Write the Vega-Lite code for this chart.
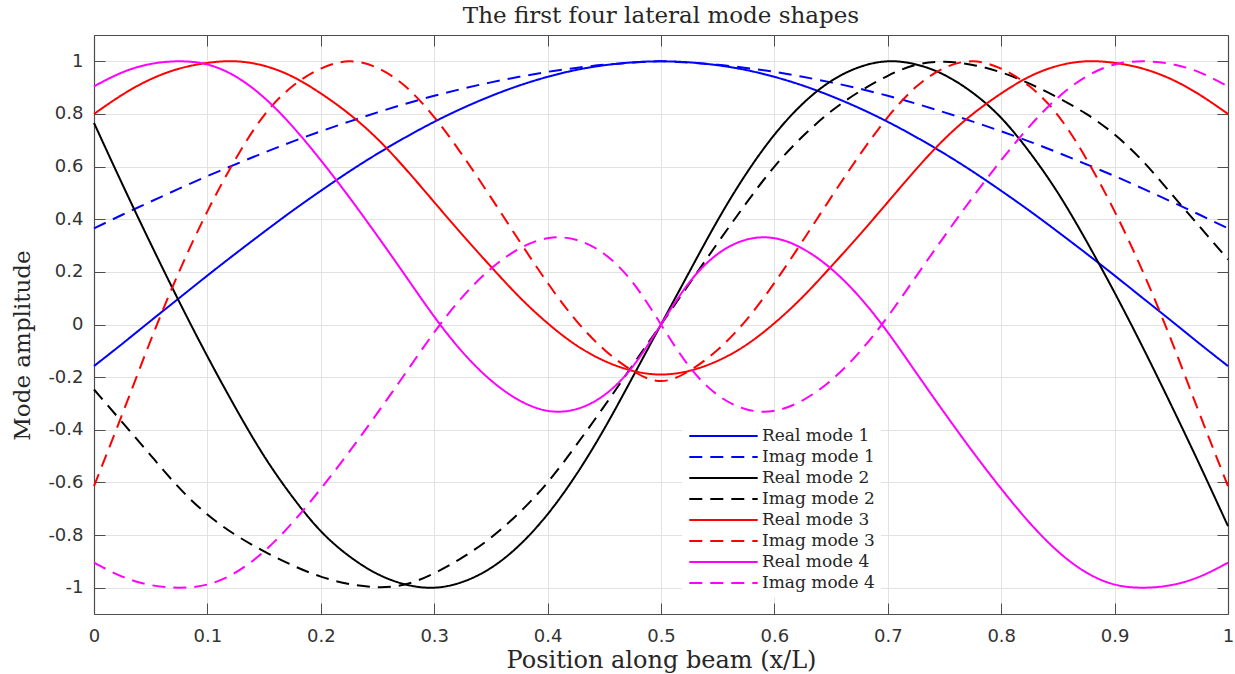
{
  "$schema": "https://vega.github.io/schema/vega-lite/v6.json",
  "width": 1134,
  "height": 579,
  "autosize": {"type": "none"},
  "padding": {"left": 94, "top": 35, "right": 7, "bottom": 60},
  "background": "white",
  "config": {"view": {"stroke": null}},
  "title": {
    "text": "The first four lateral mode shapes",
    "font": "DejaVu Serif",
    "fontSize": 23,
    "fontWeight": "normal",
    "color": "#262626",
    "anchor": "middle",
    "baseline": "alphabetic",
    "offset": 10,
    "dy": 21
  },
  "data": {
    "values": [
      {"s":"Real mode 1","x":0,"y":-0.158},{"s":"Real mode 1","x":0.025,"y":-0.073},{"s":"Real mode 1","x":0.05,"y":0.014},{"s":"Real mode 1","x":0.075,"y":0.1},{"s":"Real mode 1","x":0.1,"y":0.186},{"s":"Real mode 1","x":0.125,"y":0.27},{"s":"Real mode 1","x":0.15,"y":0.352},{"s":"Real mode 1","x":0.175,"y":0.432},{"s":"Real mode 1","x":0.2,"y":0.508},{"s":"Real mode 1","x":0.225,"y":0.581},{"s":"Real mode 1","x":0.25,"y":0.649},{"s":"Real mode 1","x":0.275,"y":0.712},{"s":"Real mode 1","x":0.3,"y":0.77},{"s":"Real mode 1","x":0.325,"y":0.822},{"s":"Real mode 1","x":0.35,"y":0.868},{"s":"Real mode 1","x":0.375,"y":0.908},{"s":"Real mode 1","x":0.4,"y":0.941},{"s":"Real mode 1","x":0.425,"y":0.967},{"s":"Real mode 1","x":0.45,"y":0.985},{"s":"Real mode 1","x":0.475,"y":0.996},{"s":"Real mode 1","x":0.5,"y":1.0},{"s":"Real mode 1","x":0.525,"y":0.996},{"s":"Real mode 1","x":0.55,"y":0.985},{"s":"Real mode 1","x":0.575,"y":0.967},{"s":"Real mode 1","x":0.6,"y":0.941},{"s":"Real mode 1","x":0.625,"y":0.908},{"s":"Real mode 1","x":0.65,"y":0.868},{"s":"Real mode 1","x":0.675,"y":0.822},{"s":"Real mode 1","x":0.7,"y":0.77},{"s":"Real mode 1","x":0.725,"y":0.712},{"s":"Real mode 1","x":0.75,"y":0.649},{"s":"Real mode 1","x":0.775,"y":0.581},{"s":"Real mode 1","x":0.8,"y":0.508},{"s":"Real mode 1","x":0.825,"y":0.432},{"s":"Real mode 1","x":0.85,"y":0.352},{"s":"Real mode 1","x":0.875,"y":0.27},{"s":"Real mode 1","x":0.9,"y":0.186},{"s":"Real mode 1","x":0.925,"y":0.1},{"s":"Real mode 1","x":0.95,"y":0.014},{"s":"Real mode 1","x":0.975,"y":-0.073},{"s":"Real mode 1","x":1,"y":-0.158},
      {"s":"Imag mode 1","x":0,"y":0.365},{"s":"Imag mode 1","x":0.025,"y":0.417},{"s":"Imag mode 1","x":0.05,"y":0.467},{"s":"Imag mode 1","x":0.075,"y":0.516},{"s":"Imag mode 1","x":0.1,"y":0.564},{"s":"Imag mode 1","x":0.125,"y":0.609},{"s":"Imag mode 1","x":0.15,"y":0.653},{"s":"Imag mode 1","x":0.175,"y":0.695},{"s":"Imag mode 1","x":0.2,"y":0.734},{"s":"Imag mode 1","x":0.225,"y":0.771},{"s":"Imag mode 1","x":0.25,"y":0.806},{"s":"Imag mode 1","x":0.275,"y":0.839},{"s":"Imag mode 1","x":0.3,"y":0.869},{"s":"Imag mode 1","x":0.325,"y":0.896},{"s":"Imag mode 1","x":0.35,"y":0.92},{"s":"Imag mode 1","x":0.375,"y":0.941},{"s":"Imag mode 1","x":0.4,"y":0.96},{"s":"Imag mode 1","x":0.425,"y":0.975},{"s":"Imag mode 1","x":0.45,"y":0.987},{"s":"Imag mode 1","x":0.475,"y":0.995},{"s":"Imag mode 1","x":0.5,"y":1.0},{"s":"Imag mode 1","x":0.525,"y":0.995},{"s":"Imag mode 1","x":0.55,"y":0.987},{"s":"Imag mode 1","x":0.575,"y":0.975},{"s":"Imag mode 1","x":0.6,"y":0.96},{"s":"Imag mode 1","x":0.625,"y":0.941},{"s":"Imag mode 1","x":0.65,"y":0.92},{"s":"Imag mode 1","x":0.675,"y":0.896},{"s":"Imag mode 1","x":0.7,"y":0.869},{"s":"Imag mode 1","x":0.725,"y":0.839},{"s":"Imag mode 1","x":0.75,"y":0.806},{"s":"Imag mode 1","x":0.775,"y":0.771},{"s":"Imag mode 1","x":0.8,"y":0.734},{"s":"Imag mode 1","x":0.825,"y":0.695},{"s":"Imag mode 1","x":0.85,"y":0.653},{"s":"Imag mode 1","x":0.875,"y":0.609},{"s":"Imag mode 1","x":0.9,"y":0.564},{"s":"Imag mode 1","x":0.925,"y":0.516},{"s":"Imag mode 1","x":0.95,"y":0.467},{"s":"Imag mode 1","x":0.975,"y":0.417},{"s":"Imag mode 1","x":1,"y":0.365},
      {"s":"Real mode 2","x":0,"y":0.766},{"s":"Real mode 2","x":0.025,"y":0.533},{"s":"Real mode 2","x":0.05,"y":0.307},{"s":"Real mode 2","x":0.075,"y":0.088},{"s":"Real mode 2","x":0.1,"y":-0.121},{"s":"Real mode 2","x":0.125,"y":-0.318},{"s":"Real mode 2","x":0.15,"y":-0.5},{"s":"Real mode 2","x":0.175,"y":-0.655},{"s":"Real mode 2","x":0.2,"y":-0.785},{"s":"Real mode 2","x":0.225,"y":-0.88},{"s":"Real mode 2","x":0.25,"y":-0.948},{"s":"Real mode 2","x":0.275,"y":-0.988},{"s":"Real mode 2","x":0.3,"y":-1.0},{"s":"Real mode 2","x":0.325,"y":-0.978},{"s":"Real mode 2","x":0.35,"y":-0.925},{"s":"Real mode 2","x":0.375,"y":-0.839},{"s":"Real mode 2","x":0.4,"y":-0.721},{"s":"Real mode 2","x":0.425,"y":-0.572},{"s":"Real mode 2","x":0.45,"y":-0.396},{"s":"Real mode 2","x":0.475,"y":-0.2},{"s":"Real mode 2","x":0.5,"y":0},{"s":"Real mode 2","x":0.525,"y":0.2},{"s":"Real mode 2","x":0.55,"y":0.396},{"s":"Real mode 2","x":0.575,"y":0.572},{"s":"Real mode 2","x":0.6,"y":0.721},{"s":"Real mode 2","x":0.625,"y":0.839},{"s":"Real mode 2","x":0.65,"y":0.925},{"s":"Real mode 2","x":0.675,"y":0.978},{"s":"Real mode 2","x":0.7,"y":1.0},{"s":"Real mode 2","x":0.725,"y":0.988},{"s":"Real mode 2","x":0.75,"y":0.948},{"s":"Real mode 2","x":0.775,"y":0.88},{"s":"Real mode 2","x":0.8,"y":0.785},{"s":"Real mode 2","x":0.825,"y":0.655},{"s":"Real mode 2","x":0.85,"y":0.5},{"s":"Real mode 2","x":0.875,"y":0.318},{"s":"Real mode 2","x":0.9,"y":0.121},{"s":"Real mode 2","x":0.925,"y":-0.088},{"s":"Real mode 2","x":0.95,"y":-0.307},{"s":"Real mode 2","x":0.975,"y":-0.533},{"s":"Real mode 2","x":1,"y":-0.766},
      {"s":"Imag mode 2","x":0,"y":-0.247},{"s":"Imag mode 2","x":0.025,"y":-0.372},{"s":"Imag mode 2","x":0.05,"y":-0.497},{"s":"Imag mode 2","x":0.075,"y":-0.62},{"s":"Imag mode 2","x":0.1,"y":-0.722},{"s":"Imag mode 2","x":0.125,"y":-0.8},{"s":"Imag mode 2","x":0.15,"y":-0.862},{"s":"Imag mode 2","x":0.175,"y":-0.915},{"s":"Imag mode 2","x":0.2,"y":-0.958},{"s":"Imag mode 2","x":0.225,"y":-0.986},{"s":"Imag mode 2","x":0.25,"y":-0.998},{"s":"Imag mode 2","x":0.275,"y":-0.987},{"s":"Imag mode 2","x":0.3,"y":-0.945},{"s":"Imag mode 2","x":0.325,"y":-0.885},{"s":"Imag mode 2","x":0.35,"y":-0.81},{"s":"Imag mode 2","x":0.375,"y":-0.715},{"s":"Imag mode 2","x":0.4,"y":-0.6},{"s":"Imag mode 2","x":0.425,"y":-0.46},{"s":"Imag mode 2","x":0.45,"y":-0.31},{"s":"Imag mode 2","x":0.475,"y":-0.155},{"s":"Imag mode 2","x":0.5,"y":0},{"s":"Imag mode 2","x":0.525,"y":0.155},{"s":"Imag mode 2","x":0.55,"y":0.31},{"s":"Imag mode 2","x":0.575,"y":0.46},{"s":"Imag mode 2","x":0.6,"y":0.6},{"s":"Imag mode 2","x":0.625,"y":0.715},{"s":"Imag mode 2","x":0.65,"y":0.81},{"s":"Imag mode 2","x":0.675,"y":0.885},{"s":"Imag mode 2","x":0.7,"y":0.945},{"s":"Imag mode 2","x":0.725,"y":0.987},{"s":"Imag mode 2","x":0.75,"y":0.998},{"s":"Imag mode 2","x":0.775,"y":0.986},{"s":"Imag mode 2","x":0.8,"y":0.958},{"s":"Imag mode 2","x":0.825,"y":0.915},{"s":"Imag mode 2","x":0.85,"y":0.862},{"s":"Imag mode 2","x":0.875,"y":0.8},{"s":"Imag mode 2","x":0.9,"y":0.722},{"s":"Imag mode 2","x":0.925,"y":0.62},{"s":"Imag mode 2","x":0.95,"y":0.497},{"s":"Imag mode 2","x":0.975,"y":0.372},{"s":"Imag mode 2","x":1,"y":0.247},
      {"s":"Real mode 3","x":0,"y":0.8},{"s":"Real mode 3","x":0.025,"y":0.873},{"s":"Real mode 3","x":0.05,"y":0.932},{"s":"Real mode 3","x":0.075,"y":0.972},{"s":"Real mode 3","x":0.1,"y":0.994},{"s":"Real mode 3","x":0.125,"y":1.0},{"s":"Real mode 3","x":0.15,"y":0.983},{"s":"Real mode 3","x":0.175,"y":0.942},{"s":"Real mode 3","x":0.2,"y":0.878},{"s":"Real mode 3","x":0.225,"y":0.8},{"s":"Real mode 3","x":0.25,"y":0.705},{"s":"Real mode 3","x":0.275,"y":0.59},{"s":"Real mode 3","x":0.3,"y":0.465},{"s":"Real mode 3","x":0.325,"y":0.34},{"s":"Real mode 3","x":0.35,"y":0.22},{"s":"Real mode 3","x":0.375,"y":0.105},{"s":"Real mode 3","x":0.4,"y":0.005},{"s":"Real mode 3","x":0.425,"y":-0.078},{"s":"Real mode 3","x":0.45,"y":-0.138},{"s":"Real mode 3","x":0.475,"y":-0.176},{"s":"Real mode 3","x":0.5,"y":-0.19},{"s":"Real mode 3","x":0.525,"y":-0.176},{"s":"Real mode 3","x":0.55,"y":-0.138},{"s":"Real mode 3","x":0.575,"y":-0.078},{"s":"Real mode 3","x":0.6,"y":0.005},{"s":"Real mode 3","x":0.625,"y":0.105},{"s":"Real mode 3","x":0.65,"y":0.22},{"s":"Real mode 3","x":0.675,"y":0.34},{"s":"Real mode 3","x":0.7,"y":0.465},{"s":"Real mode 3","x":0.725,"y":0.59},{"s":"Real mode 3","x":0.75,"y":0.705},{"s":"Real mode 3","x":0.775,"y":0.8},{"s":"Real mode 3","x":0.8,"y":0.878},{"s":"Real mode 3","x":0.825,"y":0.942},{"s":"Real mode 3","x":0.85,"y":0.983},{"s":"Real mode 3","x":0.875,"y":1.0},{"s":"Real mode 3","x":0.9,"y":0.994},{"s":"Real mode 3","x":0.925,"y":0.972},{"s":"Real mode 3","x":0.95,"y":0.932},{"s":"Real mode 3","x":0.975,"y":0.873},{"s":"Real mode 3","x":1,"y":0.8},
      {"s":"Imag mode 3","x":0,"y":-0.614},{"s":"Imag mode 3","x":0.025,"y":-0.34},{"s":"Imag mode 3","x":0.05,"y":-0.06},{"s":"Imag mode 3","x":0.075,"y":0.2},{"s":"Imag mode 3","x":0.1,"y":0.43},{"s":"Imag mode 3","x":0.125,"y":0.63},{"s":"Imag mode 3","x":0.15,"y":0.795},{"s":"Imag mode 3","x":0.175,"y":0.905},{"s":"Imag mode 3","x":0.2,"y":0.972},{"s":"Imag mode 3","x":0.225,"y":1.0},{"s":"Imag mode 3","x":0.25,"y":0.975},{"s":"Imag mode 3","x":0.275,"y":0.903},{"s":"Imag mode 3","x":0.3,"y":0.788},{"s":"Imag mode 3","x":0.325,"y":0.643},{"s":"Imag mode 3","x":0.35,"y":0.483},{"s":"Imag mode 3","x":0.375,"y":0.318},{"s":"Imag mode 3","x":0.4,"y":0.158},{"s":"Imag mode 3","x":0.425,"y":0.016},{"s":"Imag mode 3","x":0.45,"y":-0.096},{"s":"Imag mode 3","x":0.475,"y":-0.176},{"s":"Imag mode 3","x":0.5,"y":-0.215},{"s":"Imag mode 3","x":0.525,"y":-0.176},{"s":"Imag mode 3","x":0.55,"y":-0.096},{"s":"Imag mode 3","x":0.575,"y":0.016},{"s":"Imag mode 3","x":0.6,"y":0.158},{"s":"Imag mode 3","x":0.625,"y":0.318},{"s":"Imag mode 3","x":0.65,"y":0.483},{"s":"Imag mode 3","x":0.675,"y":0.643},{"s":"Imag mode 3","x":0.7,"y":0.788},{"s":"Imag mode 3","x":0.725,"y":0.903},{"s":"Imag mode 3","x":0.75,"y":0.975},{"s":"Imag mode 3","x":0.775,"y":1.0},{"s":"Imag mode 3","x":0.8,"y":0.972},{"s":"Imag mode 3","x":0.825,"y":0.905},{"s":"Imag mode 3","x":0.85,"y":0.795},{"s":"Imag mode 3","x":0.875,"y":0.63},{"s":"Imag mode 3","x":0.9,"y":0.43},{"s":"Imag mode 3","x":0.925,"y":0.2},{"s":"Imag mode 3","x":0.95,"y":-0.06},{"s":"Imag mode 3","x":0.975,"y":-0.34},{"s":"Imag mode 3","x":1,"y":-0.614},
      {"s":"Real mode 4","x":0,"y":0.905},{"s":"Real mode 4","x":0.025,"y":0.958},{"s":"Real mode 4","x":0.05,"y":0.99},{"s":"Real mode 4","x":0.075,"y":1.0},{"s":"Real mode 4","x":0.1,"y":0.988},{"s":"Real mode 4","x":0.125,"y":0.942},{"s":"Real mode 4","x":0.15,"y":0.862},{"s":"Real mode 4","x":0.175,"y":0.753},{"s":"Real mode 4","x":0.2,"y":0.624},{"s":"Real mode 4","x":0.225,"y":0.484},{"s":"Real mode 4","x":0.25,"y":0.336},{"s":"Real mode 4","x":0.275,"y":0.183},{"s":"Real mode 4","x":0.3,"y":0.03},{"s":"Real mode 4","x":0.325,"y":-0.105},{"s":"Real mode 4","x":0.35,"y":-0.212},{"s":"Real mode 4","x":0.375,"y":-0.288},{"s":"Real mode 4","x":0.4,"y":-0.328},{"s":"Real mode 4","x":0.425,"y":-0.322},{"s":"Real mode 4","x":0.45,"y":-0.268},{"s":"Real mode 4","x":0.475,"y":-0.16},{"s":"Real mode 4","x":0.5,"y":0},{"s":"Real mode 4","x":0.525,"y":0.16},{"s":"Real mode 4","x":0.55,"y":0.268},{"s":"Real mode 4","x":0.575,"y":0.322},{"s":"Real mode 4","x":0.6,"y":0.328},{"s":"Real mode 4","x":0.625,"y":0.288},{"s":"Real mode 4","x":0.65,"y":0.212},{"s":"Real mode 4","x":0.675,"y":0.105},{"s":"Real mode 4","x":0.7,"y":-0.03},{"s":"Real mode 4","x":0.725,"y":-0.183},{"s":"Real mode 4","x":0.75,"y":-0.336},{"s":"Real mode 4","x":0.775,"y":-0.484},{"s":"Real mode 4","x":0.8,"y":-0.624},{"s":"Real mode 4","x":0.825,"y":-0.753},{"s":"Real mode 4","x":0.85,"y":-0.862},{"s":"Real mode 4","x":0.875,"y":-0.942},{"s":"Real mode 4","x":0.9,"y":-0.988},{"s":"Real mode 4","x":0.925,"y":-1.0},{"s":"Real mode 4","x":0.95,"y":-0.99},{"s":"Real mode 4","x":0.975,"y":-0.958},{"s":"Real mode 4","x":1,"y":-0.905},
      {"s":"Imag mode 4","x":0,"y":-0.905},{"s":"Imag mode 4","x":0.025,"y":-0.958},{"s":"Imag mode 4","x":0.05,"y":-0.99},{"s":"Imag mode 4","x":0.075,"y":-1.0},{"s":"Imag mode 4","x":0.1,"y":-0.988},{"s":"Imag mode 4","x":0.125,"y":-0.942},{"s":"Imag mode 4","x":0.15,"y":-0.862},{"s":"Imag mode 4","x":0.175,"y":-0.753},{"s":"Imag mode 4","x":0.2,"y":-0.624},{"s":"Imag mode 4","x":0.225,"y":-0.484},{"s":"Imag mode 4","x":0.25,"y":-0.336},{"s":"Imag mode 4","x":0.275,"y":-0.183},{"s":"Imag mode 4","x":0.3,"y":-0.03},{"s":"Imag mode 4","x":0.325,"y":0.105},{"s":"Imag mode 4","x":0.35,"y":0.212},{"s":"Imag mode 4","x":0.375,"y":0.288},{"s":"Imag mode 4","x":0.4,"y":0.328},{"s":"Imag mode 4","x":0.425,"y":0.322},{"s":"Imag mode 4","x":0.45,"y":0.268},{"s":"Imag mode 4","x":0.475,"y":0.16},{"s":"Imag mode 4","x":0.5,"y":0},{"s":"Imag mode 4","x":0.525,"y":-0.16},{"s":"Imag mode 4","x":0.55,"y":-0.268},{"s":"Imag mode 4","x":0.575,"y":-0.322},{"s":"Imag mode 4","x":0.6,"y":-0.328},{"s":"Imag mode 4","x":0.625,"y":-0.288},{"s":"Imag mode 4","x":0.65,"y":-0.212},{"s":"Imag mode 4","x":0.675,"y":-0.105},{"s":"Imag mode 4","x":0.7,"y":0.03},{"s":"Imag mode 4","x":0.725,"y":0.183},{"s":"Imag mode 4","x":0.75,"y":0.336},{"s":"Imag mode 4","x":0.775,"y":0.484},{"s":"Imag mode 4","x":0.8,"y":0.624},{"s":"Imag mode 4","x":0.825,"y":0.753},{"s":"Imag mode 4","x":0.85,"y":0.862},{"s":"Imag mode 4","x":0.875,"y":0.942},{"s":"Imag mode 4","x":0.9,"y":0.988},{"s":"Imag mode 4","x":0.925,"y":1.0},{"s":"Imag mode 4","x":0.95,"y":0.99},{"s":"Imag mode 4","x":0.975,"y":0.958},{"s":"Imag mode 4","x":1,"y":0.905}
    ]
  },
  "layer": [
    {
      "mark": {"type": "line", "strokeWidth": 2, "interpolate": "natural"},
      "encoding": {
        "x": {
          "field": "x", "type": "quantitative",
          "scale": {"domain": [0, 1], "nice": false, "zero": false},
          "axis": {
            "orient": "bottom",
            "title": "Position along beam (x/L)",
            "titleFont": "DejaVu Serif", "titleFontSize": 24, "titleFontWeight": "normal", "titleColor": "#262626",
            "titleBaseline": "alphabetic", "titleAlign": "center", "titleX": 567, "titleY": 53,
            "values": [0, 0.1, 0.2, 0.3, 0.4, 0.5, 0.6, 0.7, 0.8, 0.9, 1],
            "labelExpr": "'' + datum.value",
            "labelFont": "DejaVu Sans", "labelFontSize": 18, "labelColor": "#333333",
            "labelFlush": false, "labelOverlap": false, "labelBound": false,
            "labelPadding": 24,
            "tickSize": -11, "tickColor": "#4d4d4d", "tickWidth": 1,
            "domainColor": "#4d4d4d", "domainWidth": 1.2,
            "grid": true, "gridColor": "#e2e2e2", "gridWidth": 1
          }
        },
        "y": {
          "field": "y", "type": "quantitative",
          "scale": {"domain": [-1.1, 1.1], "nice": false, "zero": false},
          "axis": {
            "orient": "left",
            "title": "Mode amplitude",
            "titleFont": "DejaVu Serif", "titleFontSize": 23, "titleFontWeight": "normal", "titleColor": "#262626",
            "titleBaseline": "alphabetic", "titleAlign": "center", "titleAngle": 270, "titleX": -65, "titleY": 310,
            "values": [-1, -0.8, -0.6, -0.4, -0.2, 0, 0.2, 0.4, 0.6, 0.8, 1],
            "labelExpr": "'' + datum.value",
            "labelFont": "DejaVu Sans", "labelFontSize": 18, "labelColor": "#333333",
            "labelFlush": false, "labelOverlap": false, "labelBound": false,
            "labelPadding": 22,
            "tickSize": -11, "tickColor": "#4d4d4d", "tickWidth": 1,
            "domainColor": "#4d4d4d", "domainWidth": 1.2,
            "grid": true, "gridColor": "#e2e2e2", "gridWidth": 1
          }
        },
        "color": {
          "field": "s", "type": "nominal",
          "scale": {
            "domain": ["Real mode 1", "Imag mode 1", "Real mode 2", "Imag mode 2", "Real mode 3", "Imag mode 3", "Real mode 4", "Imag mode 4"],
            "range": ["#0000ff", "#0000ff", "#000000", "#000000", "#ff0000", "#ff0000", "#ff00ff", "#ff00ff"]
          },
          "legend": {
            "orient": "none", "legendX": 588, "legendY": 384.5,
            "title": null, "padding": 6, "fillColor": "#ffffff",
            "symbolType": "M-3.6,0H3.6", "symbolSize": 361, "symbolStrokeWidth": 2, "symbolOffset": 25,
            "labelFont": "DejaVu Serif", "labelFontSize": 17, "labelColor": "#262626", "labelOffset": 28,
            "rowPadding": 2
          }
        },
        "strokeDash": {
          "field": "s", "type": "nominal",
          "scale": {
            "domain": ["Real mode 1", "Imag mode 1", "Real mode 2", "Imag mode 2", "Real mode 3", "Imag mode 3", "Real mode 4", "Imag mode 4"],
            "range": [[1, 0], [13, 8], [1, 0], [13, 8], [1, 0], [13, 8], [1, 0], [13, 8]]
          },
          "legend": {
            "orient": "none", "legendX": 588, "legendY": 384.5,
            "title": null, "padding": 6, "fillColor": "#ffffff",
            "symbolType": "M-3.6,0H3.6", "symbolSize": 361, "symbolStrokeWidth": 2, "symbolOffset": 25,
            "labelFont": "DejaVu Serif", "labelFontSize": 17, "labelColor": "#262626", "labelOffset": 28,
            "rowPadding": 2
          }
        }
      }
    },
    {
      "mark": {"type": "line", "opacity": 0},
      "encoding": {
        "x": {
          "field": "x", "type": "quantitative",
          "axis": {
            "orient": "top", "title": null, "labels": false, "grid": false,
            "values": [0, 0.1, 0.2, 0.3, 0.4, 0.5, 0.6, 0.7, 0.8, 0.9, 1],
            "tickSize": -11, "tickColor": "#4d4d4d", "tickWidth": 1,
            "domainColor": "#4d4d4d", "domainWidth": 1.2
          }
        },
        "y": {
          "field": "y", "type": "quantitative",
          "axis": {
            "orient": "right", "title": null, "labels": false, "grid": false,
            "values": [-1, -0.8, -0.6, -0.4, -0.2, 0, 0.2, 0.4, 0.6, 0.8, 1],
            "tickSize": -11, "tickColor": "#4d4d4d", "tickWidth": 1,
            "domainColor": "#4d4d4d", "domainWidth": 1.2
          }
        },
        "detail": {"field": "s", "type": "nominal"}
      }
    }
  ],
  "resolve": {"axis": {"x": "independent", "y": "independent"}}
}
